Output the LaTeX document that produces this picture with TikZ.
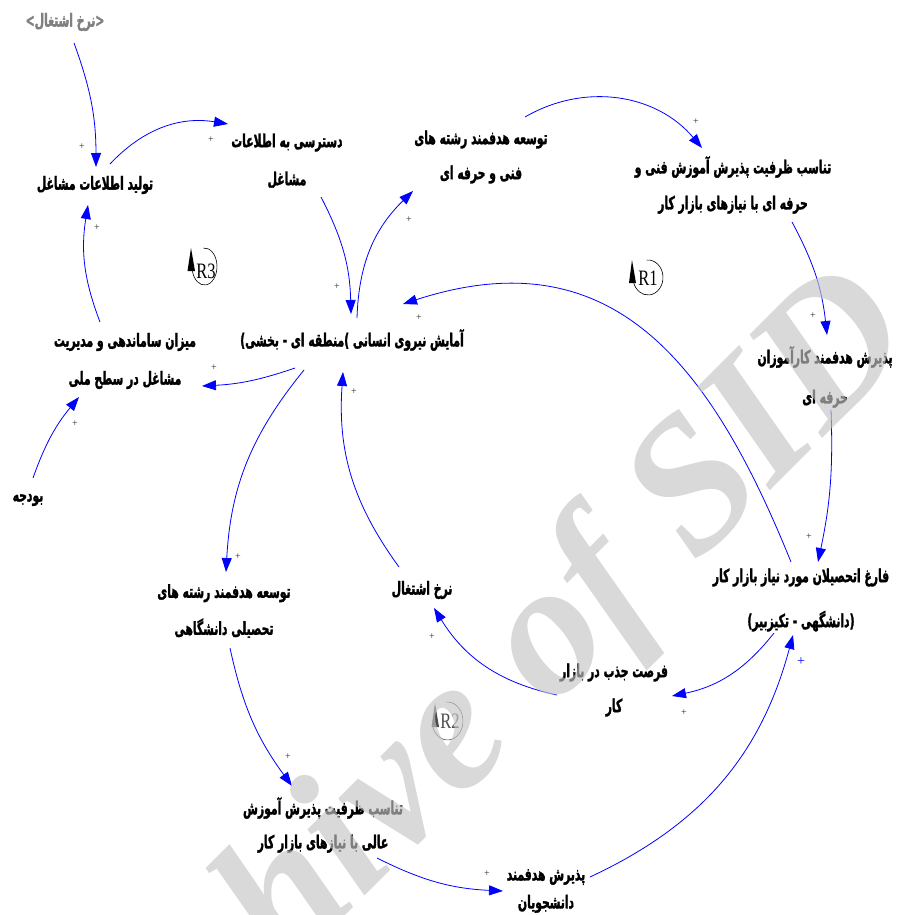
\documentclass[tikz,border=0pt]{standalone}
\usepackage{fontspec}
\setmainfont{Liberation Serif}
\TeXXeTstate=1
\newfontfamily\fa[Script=Arabic,FakeStretch=0.6,BoldFeatures={FakeBold=1.6}]{DejaVu Sans}
\newfontfamily\lat[FakeStretch=0.6,BoldFeatures={FakeBold=1.6}]{DejaVu Sans}
\newfontfamily\loopfont[FakeStretch=0.75]{Liberation Serif}
\usetikzlibrary{arrows.meta}
\newcommand{\rtltext}[1]{\beginR#1\endR}
\newcommand{\latg}[1]{{\lat\bfseries #1}}
\definecolor{cldblue}{RGB}{0,0,255}
\definecolor{pluscol}{RGB}{40,40,40}
\definecolor{wmgray}{gray}{0.77}
\begin{document}
\begin{tikzpicture}[x=1pt,y=1pt,
  var/.style={font=\fa\bfseries\fontsize{18}{37}\selectfont, align=center, inner sep=0pt},
  vs/.style={font=\fa\bfseries\fontsize{18}{#1}\selectfont},
  link/.style={draw=cldblue, line width=0.8pt, -{Triangle[length=14pt,width=10pt]}},
  pl/.style={font=\fontsize{10}{10}\selectfont, text=pluscol, inner sep=0pt},
  loopmark/.style={font=\loopfont\fontsize{22}{22}\selectfont, inner sep=0pt},
  wm/.style={font=\fontsize{190}{190}\selectfont\bfseries\itshape, text=wmgray, opacity=0.65, inner sep=0pt}
]
\useasboundingbox (0,0) rectangle (897,-915);

% variables
\node[var, text=gray] (rg) at (65,-22) {\rtltext{\latg{>}نرخ اشتغال\latg{<}}};
\node[var] (prod) at (95,-185) {\rtltext{تولید اطلاعات مشاغل}};
\node[var, vs=38] (access) at (287,-161) {\rtltext{دسترسی به اطلاعات}\\\rtltext{مشاغل}};
\node[var, vs=35] (techdev) at (481,-157) {\rtltext{توسعه هدفمند رشته های}\\\rtltext{فنی و حرفه ای}};
\node[var, vs=36] (techfit) at (733,-185) {\rtltext{تناسب ظرفیت پذیرش آموزش فنی و}\\\rtltext{حرفه ای با نیازهای بازار کار}};
\node[var, vs=40] (trainee) at (825,-377) {\rtltext{پذیرش هدفمند کارآموزان}\\\rtltext{حرفه ای}};
\node[var, vs=45] (grad) at (801,-600) {\rtltext{فارغ اتحصیلان مورد نیاز بازار کار}\\\rtltext{\latg{)}دانشگهی - تکیزبیر\latg{(}}};
\node[var] (amayesh) at (352,-340) {\rtltext{آمایش نیروی انسانی \latg{(}منطقه ای - بخشی\latg{(}}};
\node[var, vs=38] (org) at (125,-361) {\rtltext{میزان ساماندهی و مدیریت}\\\rtltext{مشاغل در سطح ملی}};
\node[var] (budget) at (28,-500) {\rtltext{بودجه}};
\node[var, vs=37] (unidev) at (224,-611) {\rtltext{توسعه هدفمند رشته های}\\\rtltext{تحصیلی دانشگاهی}};
\node[var] (rate) at (422,-590) {\rtltext{نرخ اشتغال}};
\node[var, vs=35] (opp) at (614,-690) {\rtltext{فرصت جذب در بازار}\\\rtltext{کار}};
\node[var, vs=34] (unifit) at (323,-825) {\rtltext{تناسب ظرفیت پذیرش آموزش}\\\rtltext{عالی با نیازهای بازار کار}};
\node[var, vs=28] (stud) at (546,-891) {\rtltext{پذیرش هدفمند}\\\rtltext{دانشجویان}};

% links
\draw[link] ([shift={(9,-21)}]rg.center) to[bend left=10] ([shift={(1,18)}]prod.center);
\draw[link] ([shift={(15,21)}]prod.center) to[bend left=28] ([shift={(-59,37)}]access.center);
\draw[link] ([shift={(34,-36)}]access.center) to[bend left=13] ([shift={(-1,26)}]amayesh.center);
\draw[link] ([shift={(5,22)}]amayesh.center) to[bend left=22] ([shift={(-68,-34)}]techdev.center);
\draw[link] ([shift={(44,40)}]techdev.center) to[bend left=40] ([shift={(-31,37)}]techfit.center);
\draw[link] ([shift={(59,-37)}]techfit.center) to[bend left=11] ([shift={(2,42)}]trainee.center);
\draw[link] ([shift={(6,-33)}]trainee.center) to[bend left=7] ([shift={(17,38)}]grad.center);
\draw[link] ([shift={(-10,38)}]grad.center) to[out=112,in=18,looseness=1.2] ([shift={(51,36)}]amayesh.center);
\draw[link] ([shift={(-57,-28)}]amayesh.center) to[bend left=8] ([shift={(77,-25)}]org.center);
\draw[link] ([shift={(5,22)}]budget.center) to[bend left=10] ([shift={(-46,-36)}]org.center);
\draw[link] ([shift={(-25,39)}]org.center) to[bend left=15] ([shift={(-7,-20)}]prod.center);
\draw[link] ([shift={(-48,-30)}]amayesh.center) to[bend right=18] ([shift={(2,39)}]unidev.center);
\draw[link] ([shift={(-23,23)}]rate.center) to[bend left=20] ([shift={(-9,-32)}]amayesh.center);
\draw[link] ([shift={(-57,-5)}]opp.center) to[bend left=23] ([shift={(12,-18)}]rate.center);
\draw[link] ([shift={(-27,-33)}]grad.center) to[bend left=20] ([shift={(58,-6)}]opp.center);
\draw[link] ([shift={(6,-37)}]unidev.center) to[bend right=12] ([shift={(-31,39)}]unifit.center);
\draw[link] ([shift={(54,-33)}]unifit.center) to[bend right=12] ([shift={(-43,0)}]stud.center);
\draw[link] ([shift={(44,14)}]stud.center) to[bend right=25] ([shift={(-8,-35)}]grad.center);

% polarity signs
\node[pl] (pa) at (82,-147) {+};
\node[pl] (pb) at (211,-140) {+};
\node[pl] (pc) at (337,-287) {+};
\node[pl] (pd) at (409,-220) {+};
\node[pl] (pe) at (696,-122) {+};
\node[pl] (pf) at (813,-316) {+};
\node[pl] (pg) at (809,-537) {+};
\node[pl] (ph) at (419,-318) {+};
\node[pl] (pi) at (214,-368) {+};
\node[pl] (pj) at (75,-424) {+};
\node[pl] (pk) at (97,-228) {+};
\node[pl] (pll) at (238,-557) {+};
\node[pl] (pm) at (354,-392) {+};
\node[pl] (pn) at (432,-637) {+};
\node[pl] (po) at (684,-713) {+};
\node[pl] (pp) at (288,-757) {+};
\node[pl] (pq) at (487,-874) {+};
\node[pl, text=cldblue, font=\fontsize{14}{14}\selectfont] (pr) at (801,-662) {+};

% loop markers
\draw[line width=0.6pt] (204.5,-266.5) ++(95:12.5 and 18.5) arc[start angle=95,end angle=-165,x radius=12.5,y radius=18.5];
\fill (191,-248) -- (187.5,-271) -- (195,-271) -- cycle;
\node[loopmark] (r3) at (206,-271) {R3};
\draw[line width=0.6pt] (648,-277.5) ++(95:15 and 17.5) arc[start angle=95,end angle=-165,x radius=15,y radius=17.5];
\fill (632,-260) -- (629,-283) -- (636,-283) -- cycle;
\node[loopmark] (r1) at (648,-278.5) {R1};
\begin{scope}[color=black!70]
\draw[line width=0.6pt] (447.5,-721) ++(95:15.5 and 19) arc[start angle=95,end angle=-165,x radius=15.5,y radius=19];
\fill (435,-703) -- (431.5,-727) -- (439,-727) -- cycle;
\node[loopmark, text=black!70] (r2) at (450,-721.5) {R2};
\end{scope}

% watermark
\node[wm, rotate=45] (wmark) at (470,-725) {Archive of SID};
\end{tikzpicture}
\end{document}
